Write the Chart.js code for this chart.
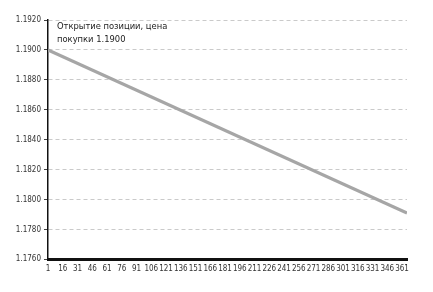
<!DOCTYPE html>
<html>
<head>
<meta charset="utf-8">
<script src="https://cdn.jsdelivr.net/npm/chart.js@4/dist/chart.umd.min.js"></script>
<style>
  html, body { margin: 0; padding: 0; background: #fff; }
  #wrap { width: 433px; height: 292px; }
</style>
</head>
<body>
<div id="wrap"><canvas id="chart" width="433" height="292"></canvas></div>
<script>
// values
const days = [1, 366]
const prices = [1.1900, 1.1791]
const xTickLabels = [1, 16, 31, 46, 61, 76, 91, 106, 121, 136, 151, 166, 181, 196, 211, 226, 241, 256, 271, 286, 301, 316, 331, 346, 361]
const yMin = 1.1760
const yMax = 1.1920
const yStep = 0.0020
const noteLines = ['Открытие позиции, цена', 'покупки 1.1900']

const font = '"DejaVu Sans Condensed", "Liberation Sans Narrow", sans-serif'

// annotation in the top left corner of the plot
const notePlugin = {
  id: 'note',
  afterDraw(chart) {
    const ctx = chart.ctx
    ctx.save()
    ctx.fillStyle = '#222'
    ctx.font = '9.3px ' + font
    ctx.textBaseline = 'alphabetic'
    ctx.fillText(noteLines[0], 57, 29)
    ctx.fillText(noteLines[1], 57, 42)
    ctx.restore()
  }
}

new Chart(document.getElementById('chart'), {
  type: 'line',
  data: {
    datasets: [{
      data: days.map((d, i) => ({ x: d, y: prices[i] })),
      borderColor: '#a6a6a6',
      borderWidth: 3.2,
      pointRadius: 0,
      fill: false,
      tension: 0
    }]
  },
  options: {
    responsive: false,
    animation: false,
    layout: { padding: { left: 0, right: 26, top: 20, bottom: 13 } },
    plugins: { legend: { display: false }, tooltip: { enabled: false } },
    scales: {
      x: {
        type: 'linear',
        min: days[0],
        max: days[days.length - 1],
        afterBuildTicks: (axis) => { axis.ticks = xTickLabels.map(v => ({ value: v })) },
        grid: { display: false, drawTicks: false },
        border: { color: '#111', width: 3 },
        ticks: {
          autoSkip: false,
          maxRotation: 0,
          padding: 5,
          color: '#333',
          font: { family: font, size: 8 }
        }
      },
      y: {
        min: yMin,
        max: yMax,
        afterFit: (axis) => { axis.width = 48 },
        grid: {
          color: '#bdbdbd',
          lineWidth: 0.8,
          tickLength: 4,
          tickColor: '#111',
          drawOnChartArea: true
        },
        border: { color: '#111', width: 1.5, dash: [4, 3] },
        ticks: {
          stepSize: yStep,
          padding: 3,
          color: '#333',
          font: { family: font, size: 8 },
          callback: (v) => v.toFixed(4)
        }
      }
    }
  },
  plugins: [notePlugin]
})
</script>
</body>
</html>
